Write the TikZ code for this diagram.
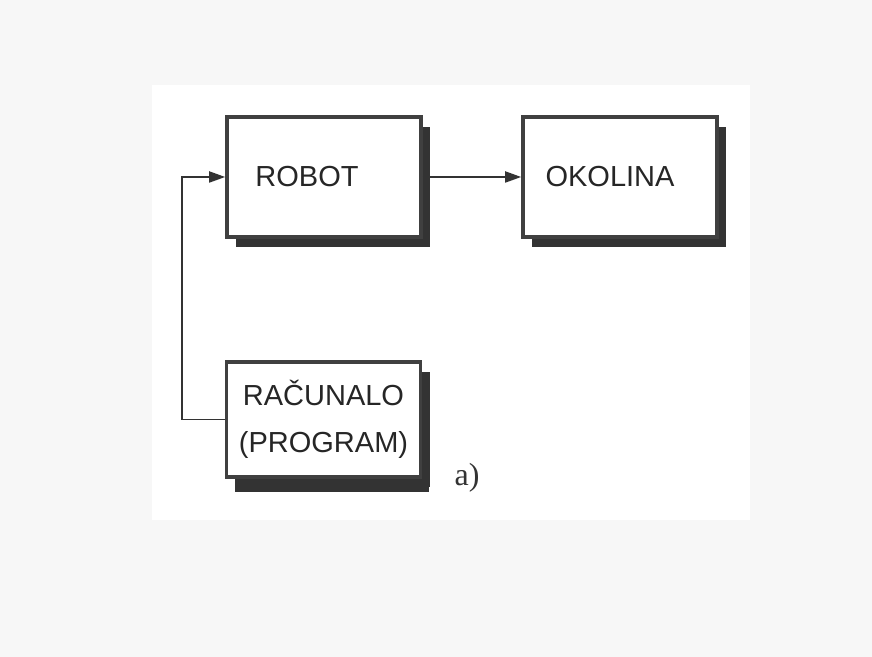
\documentclass[tikz,border=0pt]{standalone}
\usepackage{fontspec}
\setmainfont{Liberation Sans}
\newfontfamily\labelserif{Liberation Serif}
\usetikzlibrary{arrows.meta,shadows}

\tikzset{
  blok/.style={draw=black!75, line width=1.8pt, fill=white,
    minimum width=97pt, minimum height=60pt,
    drop shadow={shadow xshift=4.5pt, shadow yshift=-5pt, fill=black!80, opacity=1}},
  natpis/.style={text=black!85, font=\fontsize{14.5}{23.5}\selectfont, align=center},
  strelica/.style={draw=black!80, line width=0.9pt, -{Triangle[length=8pt,width=5.5pt]}}
}

\begin{document}
\begin{tikzpicture}[x=0.5pt,y=0.5pt]
%%Background
\fill[black!3] (0,0) rectangle (872,657);
\fill[white] (152,137) rectangle (750,572);
\useasboundingbox (0,0) rectangle (872,657);

%%Boxes
\node[blok] (robot) at (324,480) {};
\node[blok] (okolina) at (620,480) {};
\node[blok, minimum height=57.5pt,
  drop shadow={shadow xshift=4pt, shadow yshift=-7.5pt, fill=black!80, opacity=1}]
  (racunalo) at (323.5,237.5) {};

%%Text
\node[natpis, xshift=-8.5pt] (robottxt) at (robot) {ROBOT};
\node[natpis, xshift=-5pt] (okolinatxt) at (okolina) {OKOLINA};
\node[natpis] (racunalotxt) at (racunalo) {RAČUNALO\\(PROGRAM)};

%%Arrows
\coordinate (corner) at (182,237.5);
\draw[strelica] (robot.east) -- (okolina.west);
\draw[strelica] (racunalo.west) -- (corner) |- (robot.west);

%%Label
\node[text=black!80, font=\labelserif\fontsize{16}{18}\selectfont] (oznaka) at (467,179) {a)};

\end{tikzpicture}
\end{document}
